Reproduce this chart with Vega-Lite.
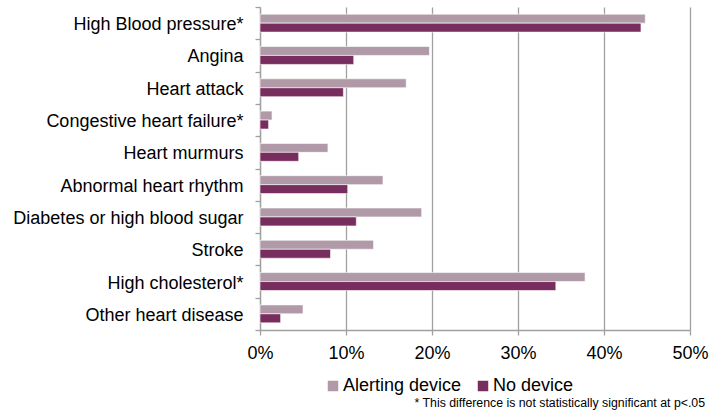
{
  "$schema": "https://vega.github.io/schema/vega-lite/v6.json",
  "width": 430,
  "height": 323,
  "autosize": "none",
  "padding": {"left": 260, "top": 7, "right": 20, "bottom": 82},
  "background": "white",
  "config": {
    "view": {"stroke": null},
    "font": "Liberation Sans"
  },
  "title": {
    "text": "* This difference is not statistically significant at p<.05",
    "orient": "bottom",
    "anchor": "end",
    "frame": "group",
    "fontSize": 12.3,
    "fontWeight": "normal",
    "font": "Liberation Sans",
    "color": "#000",
    "offset": 2,
    "dx": 15,
    "limit": 600
  },
  "data": {
    "values": [
      {"condition": "High Blood pressure*", "group": "Alerting device", "value": 0.448},
      {"condition": "High Blood pressure*", "group": "No device", "value": 0.443},
      {"condition": "Angina", "group": "Alerting device", "value": 0.197},
      {"condition": "Angina", "group": "No device", "value": 0.109},
      {"condition": "Heart attack", "group": "Alerting device", "value": 0.170},
      {"condition": "Heart attack", "group": "No device", "value": 0.097},
      {"condition": "Congestive heart failure*", "group": "Alerting device", "value": 0.014},
      {"condition": "Congestive heart failure*", "group": "No device", "value": 0.010},
      {"condition": "Heart murmurs", "group": "Alerting device", "value": 0.079},
      {"condition": "Heart murmurs", "group": "No device", "value": 0.045},
      {"condition": "Abnormal heart rhythm", "group": "Alerting device", "value": 0.143},
      {"condition": "Abnormal heart rhythm", "group": "No device", "value": 0.102},
      {"condition": "Diabetes or high blood sugar", "group": "Alerting device", "value": 0.188},
      {"condition": "Diabetes or high blood sugar", "group": "No device", "value": 0.112},
      {"condition": "Stroke", "group": "Alerting device", "value": 0.132},
      {"condition": "Stroke", "group": "No device", "value": 0.082},
      {"condition": "High cholesterol*", "group": "Alerting device", "value": 0.378},
      {"condition": "High cholesterol*", "group": "No device", "value": 0.344},
      {"condition": "Other heart disease", "group": "Alerting device", "value": 0.050},
      {"condition": "Other heart disease", "group": "No device", "value": 0.024}
    ]
  },
  "mark": {"type": "bar", "stroke": "white", "strokeWidth": 0.6},
  "encoding": {
    "y": {
      "field": "condition",
      "type": "nominal",
      "sort": null,
      "scale": {"paddingInner": 0, "paddingOuter": 0},
      "axis": {
        "title": null,
        "labelFont": "Liberation Sans",
        "labelFontSize": 18,
        "labelColor": "#000",
        "labelLimit": 400,
        "labelOffset": 1.5,
        "domainColor": "#A0A0A0",
        "domainWidth": 1.3,
        "tickColor": "#A0A0A0",
        "tickWidth": 1.3,
        "tickSize": 5,
        "tickBand": "extent",
        "labelPadding": 12,
        "grid": false
      }
    },
    "yOffset": {
      "field": "group",
      "type": "nominal",
      "sort": ["Alerting device", "No device"],
      "scale": {"paddingInner": 0, "paddingOuter": 0.8}
    },
    "x": {
      "field": "value",
      "type": "quantitative",
      "scale": {"domain": [0, 0.5], "nice": false},
      "axis": {
        "title": null,
        "format": ".0%",
        "values": [0, 0.1, 0.2, 0.3, 0.4, 0.5],
        "labelFont": "Liberation Sans",
        "labelFontSize": 18,
        "labelColor": "#000",
        "labelFlush": false,
        "labelOverlap": false,
        "grid": true,
        "gridColor": "#A0A0A0",
        "gridWidth": 1.3,
        "domainColor": "#A0A0A0",
        "domainWidth": 1.3,
        "tickColor": "#A0A0A0",
        "tickWidth": 1.3,
        "tickSize": 5,
        "labelPadding": 9
      }
    },
    "color": {
      "field": "group",
      "type": "nominal",
      "scale": {"domain": ["Alerting device", "No device"], "range": ["#B09AA8", "#782D5F"]},
      "legend": {
        "title": null,
        "orient": "none",
        "direction": "horizontal",
        "legendX": 64,
        "legendY": 370,
        "symbolType": "square",
        "symbolSize": 110,
        "symbolStrokeWidth": 0,
        "labelFontSize": 18,
        "labelFont": "Liberation Sans",
        "labelColor": "#000",
        "labelLimit": 300,
        "labelOffset": 1,
        "columnPadding": 12
      }
    }
  }
}
